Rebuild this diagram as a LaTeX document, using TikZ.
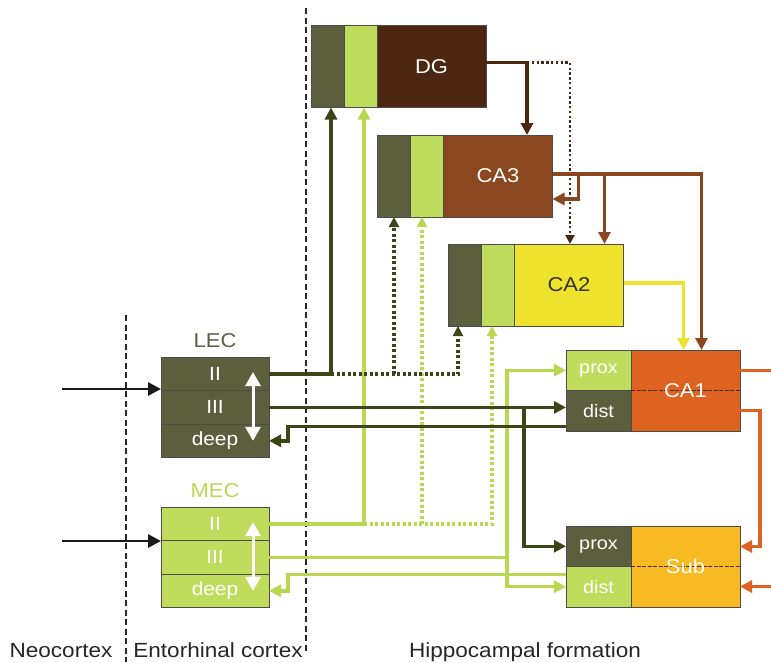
\documentclass[tikz,border=0pt]{standalone}
\usepackage{fontspec}
\setmainfont{Liberation Sans}[FakeStretch=1.1]
\usetikzlibrary{arrows.meta,positioning}

\definecolor{ecdark}{HTML}{5C5F3E}
\definecolor{eclight}{HTML}{C0DC5C}
\definecolor{dgcol}{HTML}{4B2610}
\definecolor{ca3col}{HTML}{8B4720}
\definecolor{ca2col}{HTML}{EEE22C}
\definecolor{ca1col}{HTML}{DE6220}
\definecolor{subcol}{HTML}{F8BA22}
\definecolor{leccol}{HTML}{3A4618}
\definecolor{meccol}{HTML}{B8D850}
\definecolor{midcol}{HTML}{4A2C10}

\begin{document}
\begin{tikzpicture}[x=1pt,y=-1pt,>={Triangle[length=12pt,width=12pt]}, line width=3.4pt]
    \tikzstyle{strip} = [draw=black!70, line width=0.9pt, rectangle, inner sep=0pt, outer sep=0pt, minimum width=33pt, minimum height=82pt]
    \tikzstyle{body} = [strip, minimum width=109pt, text=white, font=\fontsize{20}{23}\selectfont]
    \tikzstyle{ecrow} = [strip, minimum width=108pt, minimum height=33.4pt, text=white, font=\fontsize{19}{22}\selectfont]
    \tikzstyle{half} = [strip, minimum width=65pt, minimum height=40.5pt, text=white, font=\fontsize{18}{21}\selectfont]
    \tikzstyle{eclabel} = [inner sep=0pt, font=\fontsize{20}{23}\selectfont]
    \tikzstyle{region} = [anchor=base, text=black!85, font=\fontsize{20.5}{24}\selectfont]
    \tikzstyle{sepline} = [draw=black!85, line width=1.5pt, dash pattern=on 6pt off 3.5pt]
    \tikzstyle{midline} = [draw=midcol, line width=1.6pt, dash pattern=on 4pt off 1.5pt]
    \tikzstyle{inarrow} = [draw=black!90, line width=2.8pt, >={Triangle[length=13pt,width=13pt]}]
    \tikzstyle{updown} = [draw=white, line width=3pt, {Triangle[length=14pt,width=15pt]}-{Triangle[length=14pt,width=15pt]}]
    \tikzstyle{lecline} = [draw=leccol]
    \tikzstyle{lecdot} = [lecline, dash pattern=on 3pt off 2.5pt, >={Triangle[length=10pt,width=10pt]}]
    \tikzstyle{mecline} = [draw=meccol]
    \tikzstyle{mecdot} = [mecline, dash pattern=on 3pt off 2.5pt, >={Triangle[length=10pt,width=10pt]}]
    \tikzstyle{dgline} = [draw=dgcol]
    \tikzstyle{dgdot} = [dgline, line width=2.4pt, dash pattern=on 2.4pt off 2.4pt, >={Triangle[length=9pt,width=9pt]}]
    \tikzstyle{ca3line} = [draw=ca3col]
    \tikzstyle{ca2line} = [draw=ca2col]
    \tikzstyle{ca1line} = [draw=ca1col]

    \useasboundingbox (0,0) rectangle (771,662);

    % Bölge sınırları
    \draw[sepline] (126,315) -- (126,662);
    \draw[sepline] (306,8) -- (306,652);

    % LEC
    \node[ecrow, fill=ecdark] (lec2) at (215,374) {II};
    \node[ecrow, fill=ecdark, below=0pt of lec2] (lec3) {III};
    \node[ecrow, fill=ecdark, below=0pt of lec3] (lecd) {deep};
    \node[eclabel, text=ecdark, above=8pt of lec2] (lectxt) {LEC};
    \draw[updown] ([xshift=-16pt,yshift=2pt]lec2.east) -- ([xshift=-16pt]lecd.east);

    % MEC
    \node[ecrow, fill=eclight] (mec2) at (215,524) {II};
    \node[ecrow, fill=eclight, below=0pt of mec2] (mec3) {III};
    \node[ecrow, fill=eclight, below=0pt of mec3] (mecd) {deep};
    \node[eclabel, text=meccol, above=8pt of mec2] (mectxt) {MEC};
    \draw[updown] ([xshift=-16pt,yshift=2pt]mec2.east) -- ([xshift=-16pt]mecd.east);

    % DG, CA3, CA2
    \node[strip, fill=ecdark] (dgA) at (327.5,66.5) {};
    \node[strip, fill=eclight, right=0pt of dgA] (dgB) {};
    \node[body, fill=dgcol, right=0pt of dgB] (dg) {DG};

    \node[strip, fill=ecdark] (ca3A) at (394,176) {};
    \node[strip, fill=eclight, right=0pt of ca3A] (ca3B) {};
    \node[body, fill=ca3col, right=0pt of ca3B] (ca3) {CA3};

    \node[strip, fill=ecdark] (ca2A) at (465,285) {};
    \node[strip, fill=eclight, right=0pt of ca2A] (ca2B) {};
    \node[body, fill=ca2col, text=black!80, right=0pt of ca2B] (ca2) {CA2};

    % CA1 ve Sub
    \node[half, fill=eclight] (ca1p) at (598.5,370.25) {prox};
    \node[half, fill=ecdark, below=0pt of ca1p] (ca1d) {dist};
    \node[body, minimum height=81pt, fill=ca1col, anchor=north west] (ca1) at (ca1p.north east) {};
    \draw[midline] (ca1.west) -- (ca1.east);
    \node[body, draw=none, fill=none] (ca1txt) at (ca1) {CA1};

    \node[half, fill=ecdark] (subp) at (598.5,546.25) {prox};
    \node[half, fill=eclight, below=0pt of subp] (subd) {dist};
    \node[body, minimum height=81pt, fill=subcol, anchor=north west] (sub) at (subp.north east) {};
    \draw[midline] (sub.west) -- (sub.east);
    \node[body, draw=none, fill=none] (subtxt) at (sub) {Sub};

    % Neokorteks girişleri
    \coordinate (neo1) at (62,389);
    \coordinate (neo2) at (62,541);
    \draw[inarrow,->] (neo1) -- (neo1 -| lec2.west);
    \draw[inarrow,->] (neo2) -- (neo2 -| mec2.west);

    % MEC yolları
    \draw[mecline,->] (mec2.east) -- ++(95,0) coordinate (mecUp) -- (mecUp |- dgB.south);
    \draw[mecdot,->] (mecUp) -- ++(128,0) coordinate (mecCA2) -- (mecCA2 |- ca2B.south);
    \coordinate (mecCA3) at ([xshift=58pt]mecUp);
    \draw[mecdot,->] (mecCA3) -- (mecCA3 |- ca3B.south);
    \coordinate (mecSplit) at ([xshift=238pt]mec3.east);
    \draw[mecline] (mec3.east) -- (mecSplit);
    \draw[mecline,->] (mecSplit) |- (ca1p.west);
    \draw[mecline,->] (mecSplit) |- (subd.west);
    \draw[mecline,->] ([yshift=12pt]subd.west) -- ++(-278,0) |- (mecd.east);

    % LEC yolları
    \draw[lecline,->] (lec2.east) -- ++(62,0) coordinate (lecUp) -- (lecUp |- dgA.south);
    \draw[lecdot,->] (lecUp) -- ++(127,0) coordinate (lecCA2) -- (lecCA2 |- ca2A.south);
    \draw[lecdot,->] (lecUp -| ca3A.south) -- (ca3A.south);
    \draw[lecline,->] (lec3.east) -- (lec3.east -| ca1d.west);
    \coordinate (lecSub) at ([xshift=255pt]lec3.east);
    \draw[lecline,->] (lecSub) |- (subp.west);
    \draw[lecline,->] ([yshift=-16pt]ca1d.west) -- ++(-278,0) |- (lecd.east);

    % Trisinaptik devre
    \draw[dgline,->] ([yshift=4pt]dg.east) -- ++(41,0) coordinate (dgSplit) -- (dgSplit |- ca3.north);
    \draw[dgdot,->] (dgSplit) -- ++(43,0) coordinate (dgCA2) -- (dgCA2 |- ca2.north);

    \draw[ca3line,->] ([yshift=2pt]ca3.east) -- ++(26,0) coordinate (ca3Rec) -- ++(26,0) coordinate (ca3Split) -| ([xshift=16pt]ca1.north);
    \draw[ca3line,->] (ca3Split) -- (ca3Split |- ca2.north);
    \draw[ca3line,->] (ca3Rec) |- ([yshift=-23pt]ca3.east);

    \draw[ca2line,->] ([yshift=2pt]ca2.east) -| ([xshift=-2pt]ca1.north);

    \draw[ca1line] ([yshift=20pt]ca1.east) -- ++(32,0);
    \draw[ca1line,->] ([yshift=-20pt]ca1.east) -- ++(20,0) |- ([yshift=20pt]sub.east);
    \draw[ca1line,<-] ([yshift=-20pt]sub.east) -- ++(33,0);

    % Etiketler
    \node[region] (neo) at (61,657) {Neocortex};
    \node[region] (ento) at (218,657) {Entorhinal cortex};
    \node[region] (hippo) at (525,657) {Hippocampal formation};
\end{tikzpicture}
\end{document}
